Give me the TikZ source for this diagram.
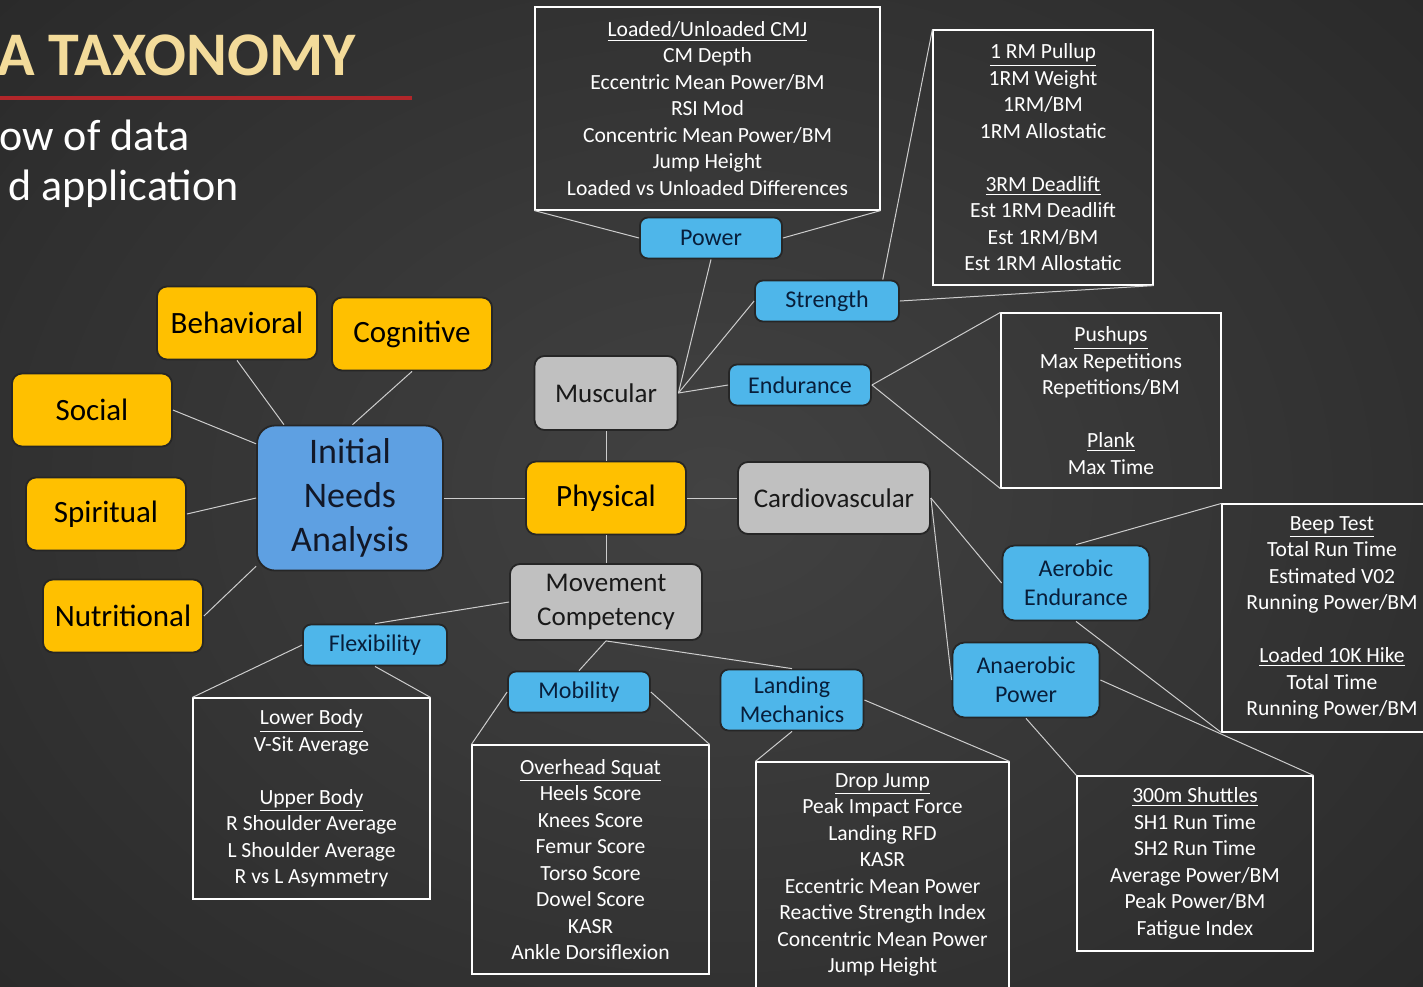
\documentclass[tikz,border=0pt]{standalone}
\usepackage{fontspec}
\setmainfont{Carlito}
\usetikzlibrary{positioning}

\definecolor{bgcol}{RGB}{66,66,66}
\definecolor{bgdark}{RGB}{42,42,42}
\definecolor{goldcol}{RGB}{243,219,154}
\definecolor{redcol}{RGB}{178,38,42}
\definecolor{yellowcol}{RGB}{255,192,0}
\definecolor{inablue}{RGB}{94,160,226}
\definecolor{greycol}{RGB}{192,192,192}
\definecolor{skycol}{RGB}{78,182,234}
\definecolor{navycol}{RGB}{8,30,58}
\definecolor{inktext}{RGB}{18,24,40}
\definecolor{linecol}{RGB}{205,205,205}

\begin{document}
\begin{tikzpicture}[
  x=0.5pt, y=-0.5pt,
  group/.style={draw=black!85, line width=0.9pt, rounded corners=5pt, align=center, inner sep=0pt},
  yellowbox/.style={group, fill=yellowcol, minimum width=80pt, minimum height=36.5pt, font=\fontsize{15.5}{18}\selectfont, text=black},
  greybox/.style={group, fill=greycol, minimum width=96pt, minimum height=37pt, font=\fontsize{13.5}{17}\selectfont, text=black!90},
  skybox/.style={group, fill=skycol, rounded corners=4pt, minimum width=71pt, minimum height=20.5pt, font=\fontsize{12}{14.5}\selectfont, text=navycol},
  databox/.style={draw=white, line width=0.6pt, align=center, text=white, inner sep=0pt, font=\fontsize{10.8}{13.25}\selectfont},
  link/.style={draw=linecol, line width=0.5pt}
]

% Background
\useasboundingbox (0,0) rectangle (1423,986);
\shade[inner color=bgcol, outer color=bgdark] (-250,-250) rectangle (1673,1236);

% Title
\node[anchor=base west, text=goldcol, font=\fontsize{31}{36}\selectfont\bfseries, inner sep=0pt] (title) at (-3,75) {A TAXONOMY};
\draw[redcol, line width=2pt] (0,98) -- (412,98);
\node[anchor=base west, text=white, font=\fontsize{22}{26}\selectfont, inner sep=0pt] (sub1) at (-1,150) {ow of data};
\node[anchor=base west, text=white, font=\fontsize{22}{26}\selectfont, inner sep=0pt] (sub2) at (8,200) {d application};

% Centre and left groups
\node[group, fill=inablue, minimum width=93pt, minimum height=72.5pt, rounded corners=9pt, font=\fontsize{18}{22}\selectfont, text=inktext] (ina) at (350,498) {Initial\\Needs\\Analysis};
\node[yellowbox] (beh) at (237,323) {Behavioral};
\node[yellowbox] (cog) at (412,334) {Cognitive};
\node[yellowbox] (soc) at (92,410) {Social};
\node[yellowbox] (spi) at (106,514) {Spiritual};
\node[yellowbox] (nut) at (123,616) {Nutritional};
\node[yellowbox] (phy) at (606,498) {Physical};

% Physical branches
\node[greybox, minimum width=71.5pt] (mus) at (606,393) {Muscular};
\node[greybox, minimum height=36pt] (car) at (834,498) {Cardiovascular};
\node[greybox, minimum height=38pt] (mov) at (606,602) {Movement\\Competency};

% Small blue nodes
\node[skybox] (pow) at (711,238) {Power};
\node[skybox, minimum width=72pt] (str) at (827,301) {Strength};
\node[skybox] (end) at (800,385) {Endurance};
\node[skybox, minimum width=72pt] (flx) at (375,645) {Flexibility};
\node[skybox] (mob) at (579,692) {Mobility};
\node[skybox, minimum width=71.5pt, minimum height=30.5pt] (lan) at (792,700) {Landing\\Mechanics};
\node[skybox, minimum width=73.5pt, minimum height=37.5pt, rounded corners=6pt] (aer) at (1076,583) {Aerobic\\Endurance};
\node[skybox, minimum width=73.5pt, minimum height=37.5pt, rounded corners=6pt] (ana) at (1026,680) {Anaerobic\\Power};

% Data boxes
\node[databox, minimum width=172.5pt, minimum height=101.5pt] (powbox) at (707.5,108.5) {\underline{Loaded/Unloaded CMJ}\\CM Depth\\Eccentric Mean Power/BM\\RSI Mod\\Concentric Mean Power/BM\\Jump Height\\Loaded vs Unloaded Differences};
\node[databox, minimum width=110pt, minimum height=127.5pt] (strbox) at (1043,157.5) {\underline{1 RM Pullup}\\1RM Weight\\1RM/BM\\1RM Allostatic\\[13.25pt]\underline{3RM Deadlift}\\Est 1RM Deadlift\\Est 1RM/BM\\Est 1RM Allostatic};
\node[databox, minimum width=110pt, minimum height=87.5pt] (endbox) at (1111,400.5) {\underline{Pushups}\\Max Repetitions\\Repetitions/BM\\[13.25pt]\underline{Plank}\\Max Time};
\node[databox, minimum width=110pt, minimum height=114pt] (aerbox) at (1332,618) {\underline{Beep Test}\\Total Run Time\\Estimated V02\\Running Power/BM\\[13.25pt]\underline{Loaded 10K Hike}\\Total Time\\Running Power/BM};
\node[databox, minimum width=118pt, minimum height=87.5pt] (anabox) at (1195,863.5) {\underline{300m Shuttles}\\SH1 Run Time\\SH2 Run Time\\Average Power/BM\\Peak Power/BM\\Fatigue Index};
\node[databox, minimum width=118.5pt, minimum height=100.5pt] (flxbox) at (311.5,798.5) {\underline{Lower Body}\\V-Sit Average\\[13.25pt]\underline{Upper Body}\\R Shoulder Average\\L Shoulder Average\\R vs L Asymmetry};
\node[databox, minimum width=118.5pt, minimum height=114.5pt] (mobbox) at (590.5,859.5) {\underline{Overhead Squat}\\Heels Score\\Knees Score\\Femur Score\\Torso Score\\Dowel Score\\KASR\\Ankle Dorsiflexion};
\node[databox, minimum width=126.5pt, minimum height=113pt] (lanbox) at (882.5,875) {\underline{Drop Jump}\\Peak Impact Force\\Landing RFD\\KASR\\Eccentric Mean Power\\Reactive Strength Index\\Concentric Mean Power\\Jump Height};

% Connectors
\draw[link] (beh.south) -- (ina.132);
\draw[link] (cog.south) -- (ina.88);
\draw[link] (soc.east) -- (ina.150);
\draw[link] (spi.east) -- (ina.west);
\draw[link] (nut.east) -- (ina.216);
\draw[link] (ina.east) -- (phy.west);
\draw[link] (phy.north) -- (mus.south);
\draw[link] (phy.east) -- (car.west);
\draw[link] (phy.south) -- (mov.north);
\draw[link] (mus.east) -- (pow.south);
\draw[link] (mus.east) -- (str.west);
\draw[link] (mus.east) -- (end.west);
\draw[link] (powbox.south west) -- (pow.west);
\draw[link] (powbox.south east) -- (pow.east);
\draw[link] (str.21) -- (strbox.north west);
\draw[link] (str.east) -- (strbox.south east);
\draw[link] (end.east) -- (endbox.north west);
\draw[link] (end.east) -- (endbox.south west);
\draw[link] (car.east) -- (aer.west);
\draw[link] (car.east) -- (ana.west);
\draw[link] (aer.north) -- (aerbox.north west);
\draw[link] (aer.south) -- (aerbox.south west);
\draw[link] (ana.south) -- (anabox.north west);
\draw[link] (ana.east) -- (anabox.north east);
\draw[link] (mov.west) -- (flx.north);
\draw[link] (flx.west) -- (flxbox.north west);
\draw[link] (flx.south) -- (flxbox.north east);
\draw[link] (mov.south) -- (mob.north);
\draw[link] (mov.south) -- (lan.north);
\draw[link] (mob.west) -- (mobbox.north west);
\draw[link] (mob.east) -- (mobbox.north east);
\draw[link] (lan.south) -- (lanbox.north west);
\draw[link] (lan.east) -- (lanbox.north east);

\end{tikzpicture}
\end{document}
